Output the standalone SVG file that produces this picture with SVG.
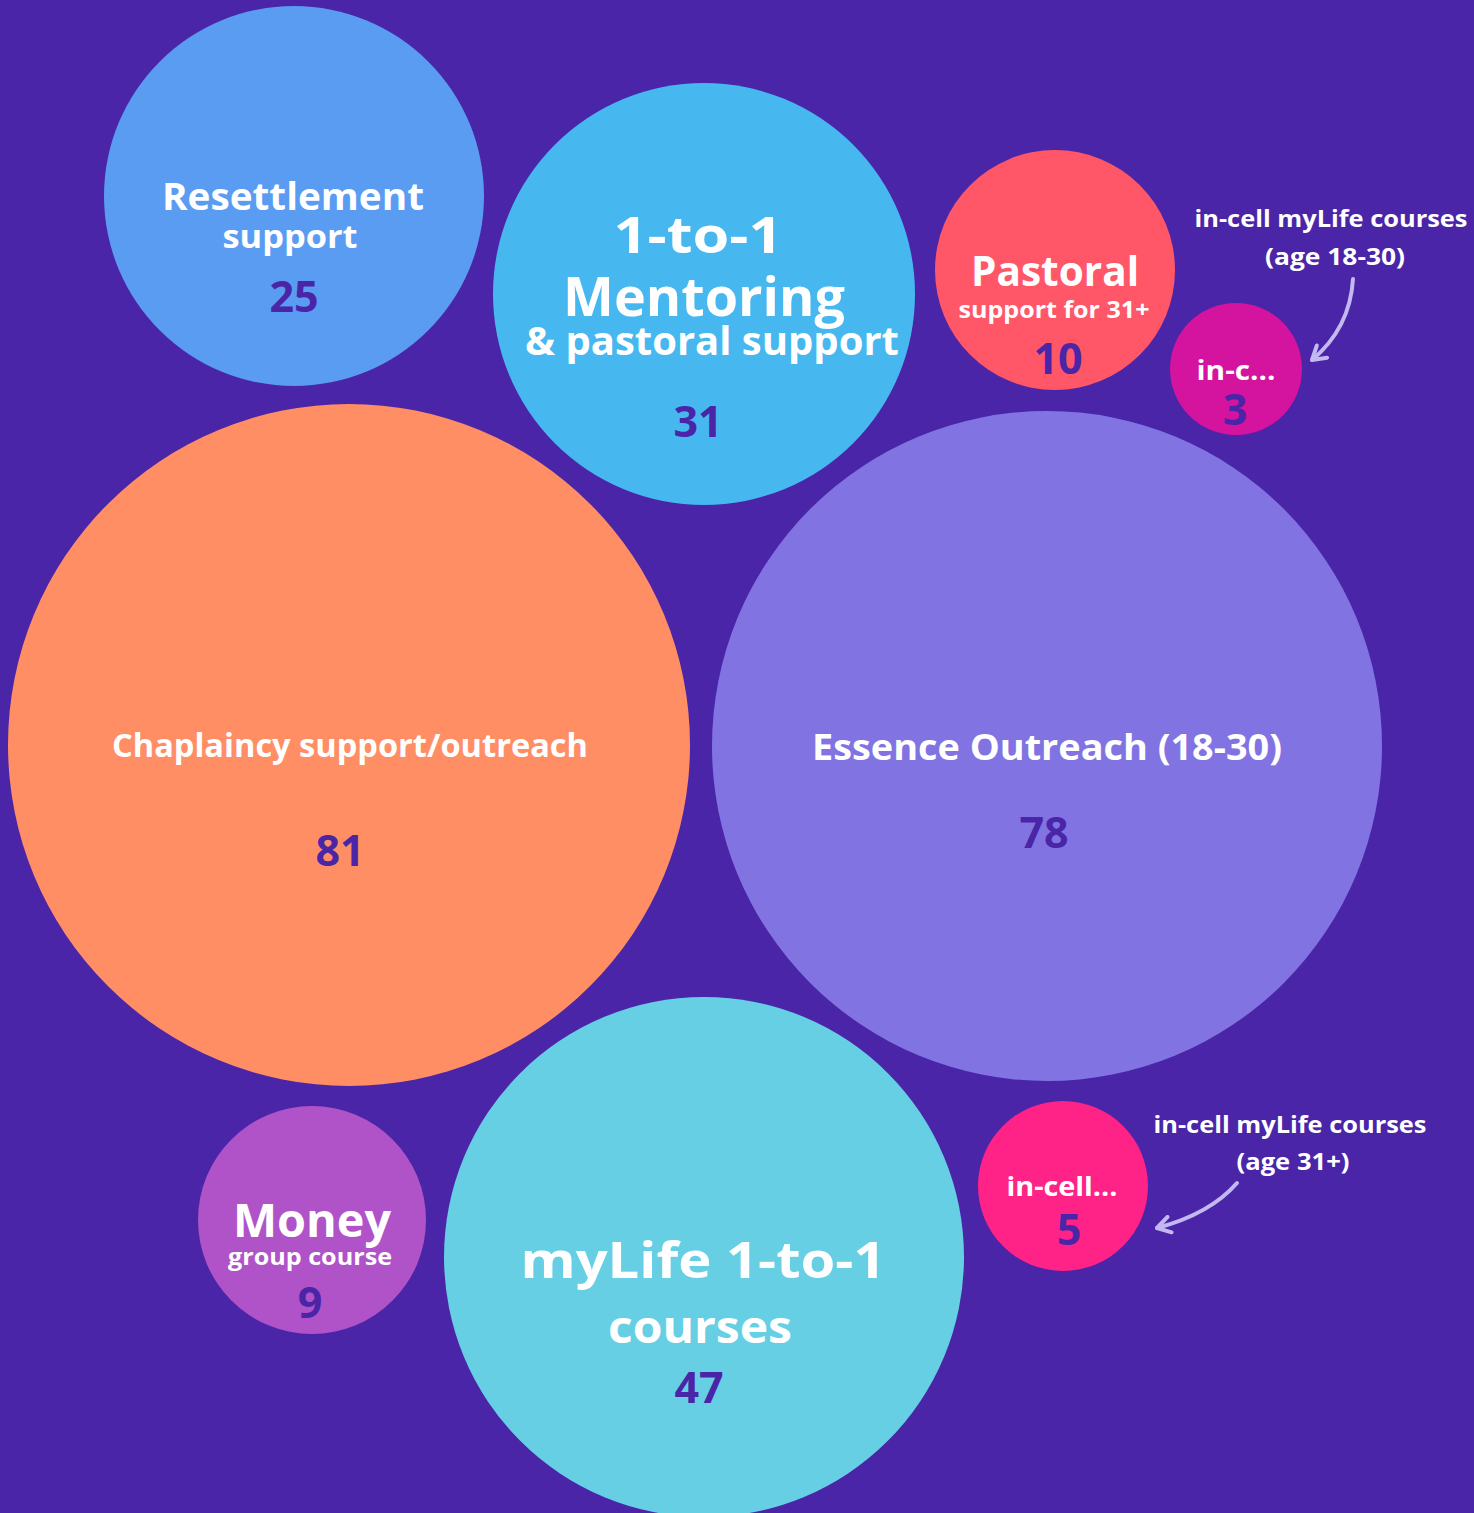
<svg xmlns="http://www.w3.org/2000/svg" width="1474" height="1513" viewBox="0 0 1474 1513">
<defs>
<style>
text{font-family:"Open Sans",Lato,"Liberation Sans",sans-serif;font-weight:700;text-anchor:middle}
.w{fill:#ffffff}
.n{fill:#4A25A8;font-size:43px}
.lab{fill:#ffffff;font-size:23px}
.arr{fill:none;stroke:#C3B8F0;stroke-width:4;stroke-linecap:round}
</style>
<marker id="ah" viewBox="0 0 20 20" refX="16" refY="10" markerWidth="20" markerHeight="20" markerUnits="userSpaceOnUse" orient="auto">
<path d="M3,2 L16,10 L3,18" fill="none" stroke="#C3B8F0" stroke-width="4" stroke-linecap="round" stroke-linejoin="round"/>
</marker>
</defs>
<rect width="1474" height="1513" fill="#4A25A8"/>
<g id="resettlement">
<circle cx="294" cy="196" r="190" fill="#5A9CF2"/>
<text class="w" x="293" y="210" font-size="38" textLength="262" lengthAdjust="spacingAndGlyphs">Resettlement</text>
<text class="w" x="290" y="248" font-size="33" textLength="135" lengthAdjust="spacingAndGlyphs">support</text>
<text class="n" x="294" y="312">25</text>
</g>
<g id="mentoring">
<circle cx="704" cy="294" r="211" fill="#46B7EF"/>
<text class="w" x="698" y="253" font-size="50" textLength="169" lengthAdjust="spacingAndGlyphs">1-to-1</text>
<text class="w" x="704" y="316" font-size="54" textLength="282" lengthAdjust="spacingAndGlyphs">Mentoring</text>
<text class="w" x="712" y="355" font-size="39" textLength="374" lengthAdjust="spacingAndGlyphs">&amp; pastoral support</text>
<text class="n" x="698" y="437">31</text>
</g>
<g id="pastoral">
<circle cx="1055" cy="270" r="120" fill="#FF5767"/>
<text class="w" x="1055" y="286" font-size="41" textLength="168" lengthAdjust="spacingAndGlyphs">Pastoral</text>
<text class="w" x="1054" y="318" font-size="24" textLength="191" lengthAdjust="spacingAndGlyphs">support for 31+</text>
<text class="n" x="1058" y="374">10</text>
</g>
<g id="incell-18-30">
<circle cx="1236" cy="369" r="66" fill="#D4139E"/>
<text class="w" x="1236" y="380" font-size="26" textLength="79" lengthAdjust="spacingAndGlyphs">in-c...</text>
<text class="n" x="1235" y="425">3</text>
</g>
<g id="chaplaincy">
<circle cx="349" cy="745" r="341" fill="#FF8E65"/>
<text class="w" x="350" y="757" font-size="32" textLength="476" lengthAdjust="spacingAndGlyphs">Chaplaincy support/outreach</text>
<text class="n" x="340" y="866">81</text>
</g>
<g id="essence">
<circle cx="1047" cy="746" r="335" fill="#8174E2"/>
<text class="w" x="1047" y="760" font-size="35" textLength="470" lengthAdjust="spacingAndGlyphs">Essence Outreach (18-30)</text>
<text class="n" x="1044" y="848">78</text>
</g>
<g id="money">
<circle cx="312" cy="1220" r="114" fill="#B053C8"/>
<text class="w" x="312" y="1237" font-size="47" textLength="158" lengthAdjust="spacingAndGlyphs">Money</text>
<text class="w" x="310" y="1265" font-size="23" textLength="164" lengthAdjust="spacingAndGlyphs">group course</text>
<text class="n" x="310" y="1318">9</text>
</g>
<g id="mylife">
<circle cx="704" cy="1257" r="260" fill="#66CFE3"/>
<text class="w" x="703" y="1278" font-size="51" textLength="365" lengthAdjust="spacingAndGlyphs">myLife 1-to-1</text>
<text class="w" x="700" y="1343" font-size="45" textLength="184" lengthAdjust="spacingAndGlyphs">courses</text>
<text class="n" x="699" y="1403">47</text>
</g>
<g id="incell-31">
<circle cx="1063" cy="1186" r="85" fill="#FF2387"/>
<text class="w" x="1062" y="1196" font-size="27" textLength="111" lengthAdjust="spacingAndGlyphs">in-cell...</text>
<text class="n" x="1069" y="1245">5</text>
</g>
<g id="annotation-18-30">
<text class="lab" x="1331" y="227" textLength="273" lengthAdjust="spacingAndGlyphs">in-cell myLife courses</text>
<text class="lab" x="1335" y="265" textLength="140" lengthAdjust="spacingAndGlyphs">(age 18-30)</text>
</g>
<g id="annotation-31">
<text class="lab" x="1290" y="1133" textLength="273" lengthAdjust="spacingAndGlyphs">in-cell myLife courses</text>
<text class="lab" x="1293" y="1170" textLength="113" lengthAdjust="spacingAndGlyphs">(age 31+)</text>
</g>
<g id="connectors">
<path class="arr" d="M1353,279 Q1350,328 1312,360" marker-end="url(#ah)"/>
<path class="arr" d="M1237,1183 Q1210,1214 1157,1228" marker-end="url(#ah)"/>
</g>
</svg>
